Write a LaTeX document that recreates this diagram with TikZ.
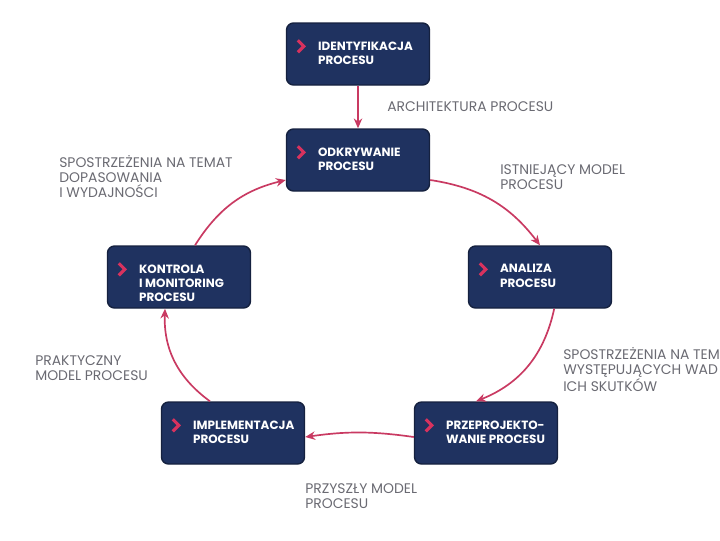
\documentclass[tikz,border=0pt]{standalone}
\usepackage{fontspec}
\setmainfont{Poppins}
\usetikzlibrary{arrows.meta,positioning}
\definecolor{boxblue}{HTML}{1F3260}
\definecolor{boxline}{HTML}{15213F}
\definecolor{chev}{HTML}{D8325E}
\definecolor{flow}{HTML}{C93A62}
\definecolor{note}{HTML}{6A6A72}
\newlength{\px}\setlength{\px}{0.025cm}
\tikzset{
  procstep/.style={draw=boxline, line width=1pt, fill=boxblue, rounded corners=5pt,
    minimum width=143\px, minimum height=62\px, inner sep=0pt},
  steptext/.style={anchor=north west, text=white, font=\fontsize{8.5}{10}\selectfont\bfseries,
    align=left, inner sep=0pt},
  notetext/.style={anchor=north west, text=note, font=\fontsize{9.9}{10.6}\selectfont,
    align=left, inner sep=0pt},
  flowline/.style={draw=flow, line width=1.2pt, -{Stealth[length=7pt,width=6pt]}}
}
% box with chevron and caption
\newcommand{\procbox}[3]{%
  \node[procstep] (#1) at #2 {};
  \node[steptext] (#1-t) at ([xshift=32\px,yshift=-19\px]#1.north west) {#3};
  \draw[chev, line width=2.2pt] ([xshift=-20\px,yshift=1\px]#1-t.north west) -- ++(6\px,-6\px) -- ++(-6\px,-6\px);
}
\begin{document}
\begin{tikzpicture}[x=0.025cm,y=-0.025cm]
\useasboundingbox (0,0) rectangle (720,540);
\procbox{ident}{(358,54)}{IDENTYFIKACJA\\PROCESU}
\procbox{odkr}{(358,160)}{ODKRYWANIE\\PROCESU}
\procbox{anal}{(540,277)}{ANALIZA\\PROCESU}
\procbox{prze}{(486,433)}{PRZEPROJEKTO-\\WANIE PROCESU}
\procbox{impl}{(233,433)}{IMPLEMENTACJA\\PROCESU}
\procbox{kontr}{(179,277)}{KONTROLA\\I MONITORING\\PROCESU}

\draw[flowline] (ident) -- (odkr);
\draw[flowline] (odkr.east |- 0,180) to[bend left=22] (anal.north);
\draw[flowline] ([xshift=-58\px]anal.south east) to[bend left=28] ([xshift=-10\px]prze.north);
\draw[flowline] (prze.west |- 0,437) to[bend right=8] (impl.east |- 0,437);
\draw[flowline] ([xshift=-23\px]impl.north) to[bend left=28] ([xshift=-14\px]kontr.south);
\draw[flowline] ([xshift=16\px]kontr.north) to[bend left=22] (odkr.west |- 0,180);

\node[notetext] (n1) at (387,101) {ARCHITEKTURA PROCESU};
\node[notetext] (n2) at (59,155) {SPOSTRZEŻENIA NA TEMAT\\DOPASOWANIA\\I WYDAJNOŚCI};
\node[notetext] (n3) at (500,164) {ISTNIEJĄCY MODEL\\PROCESU};
\node[notetext] (n4) at (563,347) {SPOSTRZEŻENIA NA TEMAT\\WYSTĘPUJĄCYCH WAD I\\ICH SKUTKÓW};
\node[notetext] (n5) at (35,355) {PRAKTYCZNY\\MODEL PROCESU};
\node[notetext] (n6) at (305,483) {PRZYSZŁY MODEL\\PROCESU};
\end{tikzpicture}
\end{document}
